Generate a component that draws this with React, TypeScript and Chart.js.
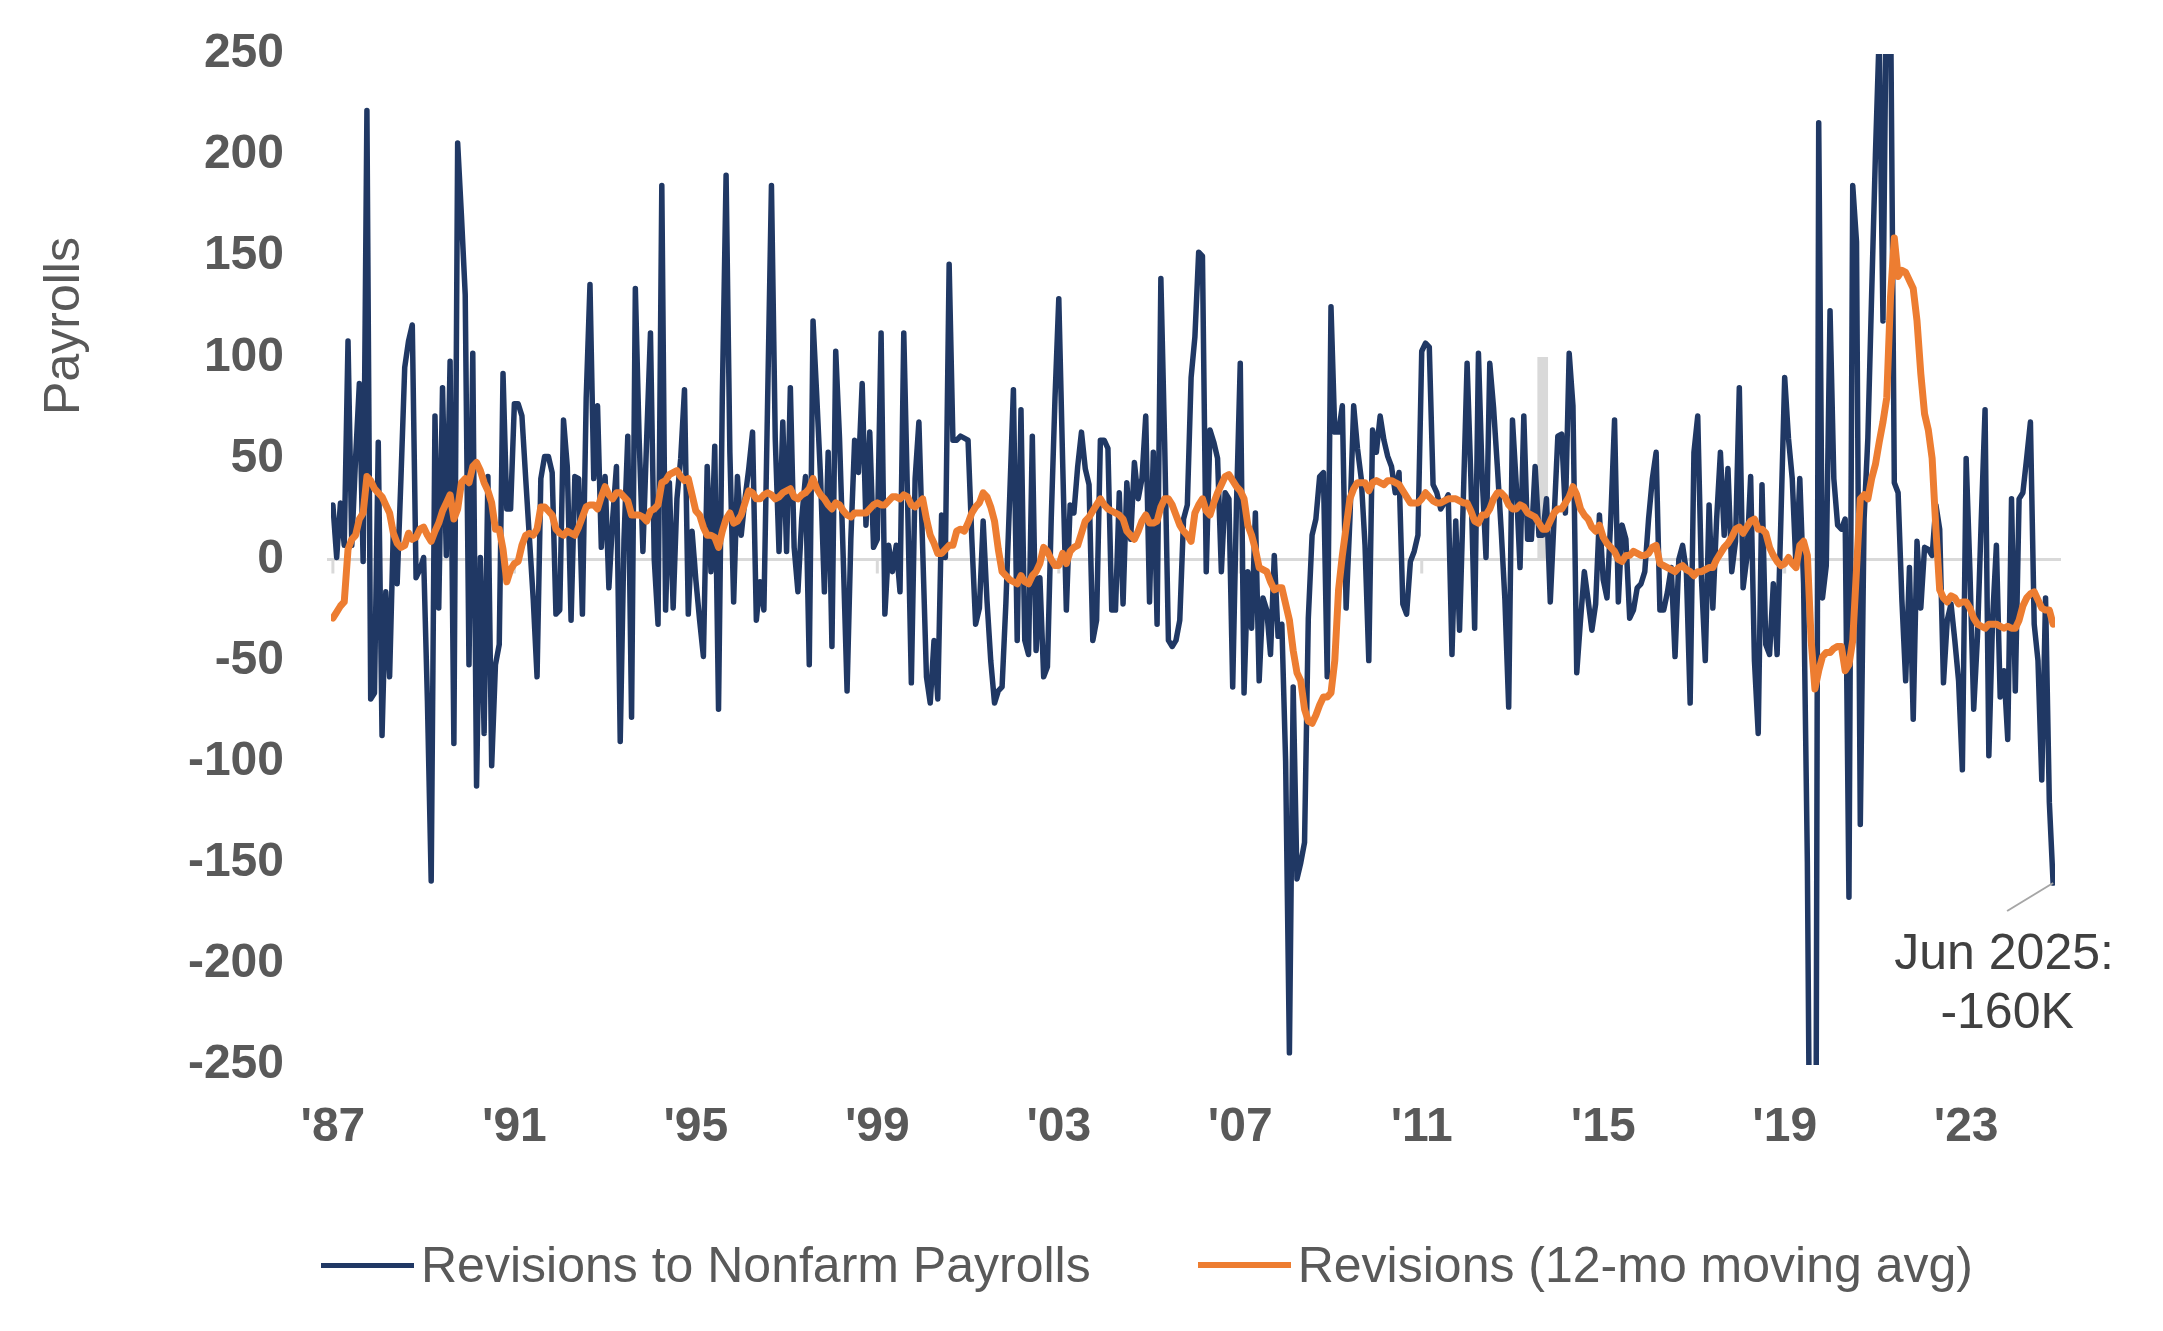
import { useEffect, useRef } from "react";
import { Chart, registerables } from "chart.js";

Chart.register(...registerables);

// Monthly series, first month July 1987, last month June 2025 (thousands of jobs)
const START_YEAR = 1987;
const START_MONTH = 6; // July, 0-based
const MONTH_NAMES = ["Jan", "Feb", "Mar", "Apr", "May", "Jun", "Jul", "Aug", "Sep", "Oct", "Nov", "Dec"];

const TICK_LABELS = ["'87", "'91", "'95", "'99", "'03", "'07", "'11", "'15", "'19", "'23"];
const TICK_EVERY = 48;

const SERIES_NAMES = ["Revisions to Nonfarm Payrolls", "Revisions (12-mo moving avg)"];
const Y_TITLE = "Payrolls";
const Y_MIN = -250;
const Y_MAX = 250;
const Y_STEP = 50;

const CALLOUT_LINES = ["Jun 2025:", "-160K"];

const HIGHLIGHT_LABEL = "Mar 2014";
const HIGHLIGHT_VALUE = 100;

const revisions = [
  // 1987-1990
  27, 1, 28, 7, 108, 7, 50, 87, -1, 222, -69, -66, 58, -87, -16, -58, 15, -12, 40, 95,
  108, 116, -9, -5, 1, -70, -159, 71, -24, 85, 2, 98, -91, 206, 170, 131, -52, 102,
  // 1990-1993
  -112, 1, -86, 41, -102, -52, -42, 92, 25, 25, 77, 77, 71, 40, 10, -20, -58, 40, 51, 51,
  43, -27, -25, 69, 46, -30, 41, 40, -27, 80, 136, 40, 76, 6, 41, -14, 20, 46,
  // 1993-1996
  -90, 10, 61, -78, 134, 60, 4, 60, 112, 0, -32, 185, -25, 38, -24, 30, 50, 84, -27, 14,
  -10, -30, -48, 46, -6, 56, -74, 80, 190, 53, -21, 41, 12, 30, 45, 63, -30, -11, -25,
  // 1996-2000
  80, 185, 60, 4, 68, 4, 85, 6, -16, 20, 41, -52, 118, 80, 40, -16, 53, -43, 103, 60,
  0, -65, 10, 59, 43, 87, 17, 63, 6, 10, 112, -27, 7, -6, 7, -16, 112, 30, -61,
  // 2000-2003
  40, 68, 5, -58, -71, -40, -69, 22, 1, 146, 59, 59, 61, 60, 59, 10, -32, -24, 19, -20,
  -50, -71, -65, -63, -22, 30, 84, -40, 74, -40, -47, 61, -45, -9, -58, -53, 20, 80,
  // 2003-2006
  129, 50, -25, 27, 23, 46, 63, 45, 37, -40, -30, 59, 59, 55, -25, -25, 33, -22, 38, 10,
  48, 30, 40, 71, -21, 53, -32, 139, 58, -40, -43, -40, -30, 20, 27, 90, 110, 152, 150,
  // 2006-2010
  -6, 64, 58, 50, -6, 33, 30, -63, 27, 97, -66, -6, -34, 23, -60, -19, -25, -47, 2, -38,
  -32, -100, -244, -63, -158, -150, -140, -29, 12, 20, 41, 43, -58, 125, 63, 63, 76, -24,
  // 2010-2013
  20, 76, 55, 40, 7, -50, 64, 53, 71, 59, 51, 46, 33, 43, -22, -27, -1, 4, 12, 103,
  107, 105, 37, 33, 25, 28, 32, -47, 19, -35, 30, 97, 40, -34, 102, 40, 1, 97, 75,
  // 2013-2016
  46, 15, -20, -73, 69, 37, -4, 71, 10, 10, 46, 12, 12, 30, -21, 20, 61, 62, 23, 102,
  76, -56, -30, -6, -20, -35, -22, 22, -10, -19, 20, 69, -21, 17, 10, -29, -25, -14, -12,
  // 2016-2019
  -6, 20, 40, 53, -25, -25, -16, -4, -48, 0, 7, -6, -71, 53, 71, -10, -50, 27, -24, 20,
  53, 12, 45, -6, 9, 85, -14, 1, 41, -50, -86, 37, -42, -47, -12, -47, 20, 90,
  // 2019-2022
  60, 40, -4, 40, -12, -150, -400, -500, 216, -19, -3, 123, 40, 17, 15, 20, -167, 185, 157, -131,
  20, 60, 131, 200, 260, 118, 300, 280, 38, 33, -20, -60, -4, -79, 9, -24, 6, 5, 2,
  // 2022-2025
  27, 15, -61, -30, -22, -40, -60, -104, 50, -6, -74, -38, 20, 74, -97, -29, 7, -68, -55, -89,
  30, -65, 30, 33, 50, 68, -32, -50, -109, -19, -120, -160,
];

const movingAvg = [
  -29, -26, -23, -21, 5, 10, 12, 20, 23, 41, 39, 35, 33, 31, 27, 23, 13, 8, 6, 7,
  13, 10, 11, 15, 16, 12, 9, 14, 18, 24, 28, 32, 20, 25, 38, 40, 38, 46,
  48, 44, 38, 34, 28, 15, 15, 5, -11, -5, -2, -1, 7, 12, 13, 12, 15, 26, 26, 24,
  22, 15, 13, 12, 14, 13, 12, 16, 21, 26, 27, 27, 25, 31, 36, 32, 30, 33,
  33, 31, 29, 22, 22, 22, 21, 19, 24, 25, 27, 38, 39, 42, 43, 44, 41, 39, 40, 32,
  24, 22, 16, 12, 12, 11, 6, 14, 20, 23, 18, 19, 22, 28, 34, 33, 30, 30, 32,
  33, 32, 30, 31, 33, 34, 35, 31, 30, 32, 33, 35, 40, 35, 32, 30, 27, 25, 28, 27,
  24, 22, 21, 23, 23, 23, 23, 25, 27, 28, 27, 27, 29, 31, 31, 30, 32, 31, 27,
  26, 28, 30, 20, 12, 8, 3, 3, 5, 7, 7, 14, 15, 14, 18, 23, 26, 28, 33, 31,
  26, 19, 5, -6, -8, -10, -11, -12, -8, -11, -12, -8, -6, -2, 6, 4, 0, -3,
  -3, 3, -2, 4, 6, 7, 13, 19, 21, 24, 27, 30, 27, 25, 24, 23, 22, 20, 14, 12,
  10, 14, 19, 22, 18, 18, 19, 26, 30, 30, 27, 22, 17, 14, 12, 9, 23, 27, 30,
  24, 22, 28, 33, 37, 41, 42, 39, 36, 34, 30, 17, 12, 5, -4, -5, -6, -11, -15, -14,
  -14, -22, -30, -45, -56, -60, -74, -80, -81, -77, -72, -68, -68, -66, -50, -15, 2, 16,
  30, 35, 38, 38, 38, 34, 38, 39, 38, 37, 39, 39, 38, 37, 34, 31, 28, 28, 28, 30,
  33, 31, 29, 28, 28, 29, 30, 30, 30, 29, 28, 28, 24, 19, 18, 22, 22, 25, 30,
  33, 33, 31, 27, 25, 25, 27, 26, 23, 22, 21, 18, 15, 15, 19, 23, 25, 25, 28, 31,
  36, 32, 25, 22, 20, 16, 14, 17, 11, 8, 6, 4, 0, -1, 2, 2, 4, 3, 2,
  2, 3, 6, 7, -2, -3, -4, -5, -6, -4, -3, -5, -6, -8, -6, -6, -5, -4, -4, 0,
  3, 6, 8, 11, 15, 16, 13, 16, 19, 20, 15, 15, 13, 6, 2, -1, -3, -2,
  1, -2, -4, 7, 9, 2, -40, -64, -55, -48, -46, -46, -44, -43, -43, -55, -52, -40, -5, 30,
  32, 30, 40, 47, 58, 68, 80, 130, 159, 140, 143, 142, 138, 134, 118, 92, 72, 64, 50,
  15, -15, -19, -21, -18, -19, -22, -21, -21, -24, -29, -32, -33, -34, -32, -32, -32, -33, -34, -33,
  -34, -34, -30, -23, -19, -17, -16, -20, -24, -25, -25, -32,
];

const labels = revisions.map((_, i) => {
  const m = START_MONTH + i;
  return `${MONTH_NAMES[m % 12]} ${START_YEAR + Math.floor(m / 12)}`;
});
const highlight = labels.map((l) => (l === HIGHLIGHT_LABEL ? HIGHLIGHT_VALUE : null));

const NAVY = "#203864";
const ORANGE = "#ED7D31";
const AXIS_TEXT = "#595959";
const FONT = '"Liberation Sans", Arial, sans-serif';

// zero baseline with small year ticks hanging below it
const baselinePlugin = {
  id: "baseline",
  beforeDatasetsDraw(chart: any) {
    const { ctx, chartArea, scales } = chart;
    const y0 = scales.y.getPixelForValue(0);
    ctx.save();
    ctx.strokeStyle = "#d9d9d9";
    ctx.lineWidth = 3;
    ctx.beginPath();
    ctx.moveTo(chartArea.left - 4, y0);
    ctx.lineTo(chartArea.right + 6, y0);
    ctx.stroke();
    for (let i = 0; i < labels.length; i += TICK_EVERY) {
      const px = scales.x.getPixelForValue(i);
      ctx.beginPath();
      ctx.moveTo(px, y0);
      ctx.lineTo(px, y0 + 14);
      ctx.stroke();
    }
    ctx.restore();
  },
};

// rotated axis title and the callout on the latest month
const textPlugin = {
  id: "texts",
  afterDraw(chart: any) {
    const { ctx, scales } = chart;
    ctx.save();
    ctx.font = `50px ${FONT}`;
    ctx.fillStyle = AXIS_TEXT;
    ctx.textAlign = "center";
    ctx.textBaseline = "middle";
    ctx.translate(57, 318);
    ctx.rotate(-Math.PI / 2);
    ctx.fillText(Y_TITLE, 0, 0);
    ctx.restore();

    const last = revisions.length - 1;
    const px = scales.x.getPixelForValue(last);
    const py = scales.y.getPixelForValue(revisions[last]);
    ctx.save();
    ctx.strokeStyle = "#a6a6a6";
    ctx.lineWidth = 2;
    ctx.beginPath();
    ctx.moveTo(px, py);
    ctx.lineTo(px - 46, py + 28);
    ctx.stroke();
    ctx.font = `50px ${FONT}`;
    ctx.fillStyle = "#404040";
    ctx.textAlign = "center";
    ctx.textBaseline = "middle";
    ctx.fillText(CALLOUT_LINES[0], px - 49, py + 72);
    ctx.fillText(CALLOUT_LINES[1], px - 46, py + 131);
    ctx.restore();
  },
};

function ChartCanvas() {
  const ref = useRef<HTMLCanvasElement | null>(null);

  useEffect(() => {
    if (!ref.current) return;
    const chart = new Chart(ref.current, {
      type: "line",
      data: {
        labels,
        datasets: [
          {
            label: SERIES_NAMES[1],
            data: movingAvg,
            borderColor: ORANGE,
            backgroundColor: ORANGE,
            borderWidth: 7,
            pointRadius: 0,
            tension: 0,
            borderJoinStyle: "round",
            borderCapStyle: "round",
            clip: 0,
            order: 0,
          },
          {
            label: SERIES_NAMES[0],
            data: revisions,
            borderColor: NAVY,
            backgroundColor: NAVY,
            borderWidth: 5.5,
            pointRadius: 0,
            tension: 0,
            borderJoinStyle: "round",
            borderCapStyle: "round",
            clip: 0,
            order: 1,
          },
          {
            type: "bar",
            label: "highlight",
            data: highlight,
            backgroundColor: "#d9d9d9",
            barThickness: 10,
            order: 2,
          } as any,
        ],
      },
      options: {
        animation: false,
        responsive: true,
        maintainAspectRatio: false,
        layout: { padding: { left: 0, top: 46, right: 100, bottom: 0 } },
        plugins: {
          legend: { display: false },
          tooltip: { enabled: false },
        },
        scales: {
          x: {
            type: "category",
            offset: true,
            grid: { display: false, drawTicks: false },
            border: { display: false },
            ticks: {
              autoSkip: false,
              maxRotation: 0,
              minRotation: 0,
              padding: 34,
              color: AXIS_TEXT,
              font: { family: FONT, size: 48, weight: "bold" },
              callback: (_v: any, i: number) => (i % TICK_EVERY === 0 ? TICK_LABELS[i / TICK_EVERY] : ""),
            },
            afterFit: (scale: any) => {
              scale.height = 258;
            },
          },
          y: {
            min: Y_MIN,
            max: Y_MAX,
            grid: { display: false, drawTicks: false },
            border: { display: false },
            ticks: {
              stepSize: Y_STEP,
              padding: 47,
              color: AXIS_TEXT,
              font: { family: FONT, size: 48, weight: "bold" },
            },
            afterFit: (scale: any) => {
              scale.width = 323;
              scale.paddingTop = 0;
              scale.paddingBottom = 0;
            },
          },
        },
      },
      plugins: [baselinePlugin, textPlugin],
    });
    return () => chart.destroy();
  }, []);

  return <canvas ref={ref} />;
}

function LegendItem({ color, thickness, text }: { color: string; thickness: number; text: string }) {
  return (
    <div style={{ display: "flex", alignItems: "center" }}>
      <div style={{ width: 93, height: thickness, background: color, marginRight: 7 }} />
      <span>{text}</span>
    </div>
  );
}

export default function App() {
  return (
    <div style={{ position: "relative", width: 2147, height: 1315, background: "#ffffff" }}>
      <ChartCanvas />
      <div
        style={{
          position: "absolute",
          left: 313,
          top: 1227,
          height: 60,
          display: "flex",
          alignItems: "center",
          gap: 107,
          fontFamily: FONT,
          fontSize: 50,
          color: AXIS_TEXT,
          whiteSpace: "nowrap",
        }}
      >
        <LegendItem color={NAVY} thickness={5} text={SERIES_NAMES[0]} />
        <LegendItem color={ORANGE} thickness={6} text={SERIES_NAMES[1]} />
      </div>
    </div>
  );
}
